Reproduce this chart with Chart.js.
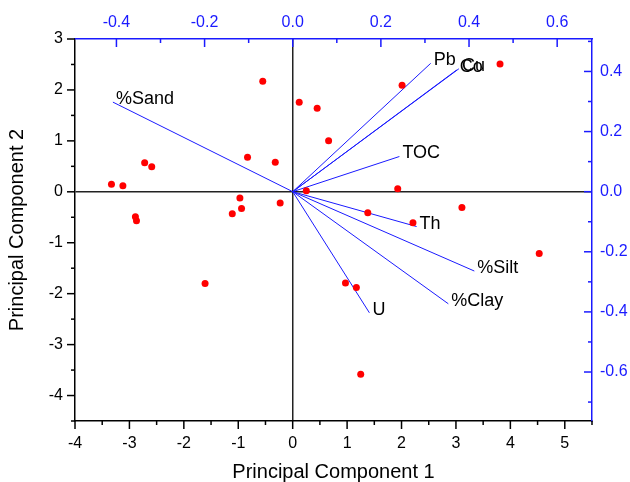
<!DOCTYPE html>
<html>
<head>
<meta charset="utf-8">
<script src="https://cdn.jsdelivr.net/npm/chart.js@4.4.1/dist/chart.umd.min.js"></script>
<style>
  html, body { margin: 0; padding: 0; background: #fff; }
  #wrap { width: 630px; height: 482px; }
</style>
</head>
<body>
<div id="wrap"><canvas id="myChart" width="630" height="482"></canvas></div>
<script>
"use strict";

// scores (red dots), PC1 / PC2
const scoreX = [-0.55, 0.12, 0.45, 0.66, -3.33, -3.12, -2.72, -2.59, -0.83, -0.32, 0.25,
                2.01, 3.81, 1.93,
                -0.97, -0.94, -1.11, -0.23, -2.89, -2.87, -1.61, 0.97, 1.17,
                1.38, 2.21, 3.11, 4.53, 1.25];
const scoreY = [2.17, 1.76, 1.64, 1.00, 0.15, 0.12, 0.57, 0.49, 0.68, 0.58, 0.02,
                2.09, 2.51, 0.06,
                -0.12, -0.33, -0.43, -0.22, -0.49, -0.57, -1.80, -1.79, -1.88,
                -0.41, -0.61, -0.31, -1.21, -3.58];

// loadings (blue vectors), top / right axes
const loadNames = ['%Sand', 'Pb', 'Co', 'Cu', 'TOC', 'Th', '%Silt', '%Clay', 'U'];
const loadX = [-0.408, 0.313, 0.372, 0.377, 0.242, 0.281, 0.412, 0.353, 0.174];
const loadY = [0.298, 0.427, 0.405, 0.409, 0.117, -0.116, -0.264, -0.373, -0.403];

// axis ranges
const pcRange1 = [-4, 5.5];
const pcRange2 = [-4.5, 3];
const topRange = [-0.494, 0.679];
const rightRange = [-0.763, 0.508];

const BLUE = '#1a1aff';
const FONT = '"Liberation Sans", Arial, sans-serif';

const scoreData = scoreX.map((x, i) => ({x: x, y: scoreY[i]}));

const vectorSets = loadNames.map((name, i) => ({
    label: name,
    xAxisID: 'x2',
    yAxisID: 'y2',
    data: [{x: 0, y: 0}, {x: loadX[i], y: loadY[i]}],
    showLine: true,
    borderColor: BLUE,
    borderWidth: 1,
    pointRadius: 0,
    order: 2
}));

// tick marks (major + minor), drawn by hand so direction can differ per side
const tickMarks = {
    id: 'tickMarks',
    afterDraw(chart) {
        const ctx = chart.ctx;
        const a = chart.chartArea;
        const sets = [
            {s: 'x', from: -4, to: 5.5, step: 0.5, major: 1, side: 'bottom', color: '#000'},
            {s: 'y', from: -4.5, to: 3, step: 0.5, major: 1, side: 'left', color: '#000'},
            {s: 'x2', from: -0.4, to: 0.6, step: 0.1, major: 0.2, side: 'top', color: BLUE},
            {s: 'y2', from: -0.7, to: 0.5, step: 0.1, major: 0.2, side: 'right', color: BLUE}
        ];
        ctx.save();
        ctx.lineWidth = 1.5;
        sets.forEach(t => {
            const sc = chart.scales[t.s];
            ctx.strokeStyle = t.color;
            const n = Math.round((t.to - t.from) / t.step);
            for (let k = 0; k <= n; k++) {
                const v = t.from + k * t.step;
                const isMajor = Math.abs(v / t.major - Math.round(v / t.major)) < 1e-6;
                const len = isMajor ? 8 : 4;
                const p = sc.getPixelForValue(v);
                ctx.beginPath();
                if (t.side === 'bottom') { ctx.moveTo(p, a.bottom); ctx.lineTo(p, a.bottom + len); }
                if (t.side === 'left') { ctx.moveTo(a.left, p); ctx.lineTo(a.left - len, p); }
                if (t.side === 'top') { ctx.moveTo(p, a.top); ctx.lineTo(p, a.top + len); }
                if (t.side === 'right') { ctx.moveTo(a.right, p); ctx.lineTo(a.right - len, p); }
                ctx.stroke();
            }
        });
        ctx.restore();
    }
};

// names at the vector tips
const vectorLabels = {
    id: 'vectorLabels',
    afterDatasetsDraw(chart) {
        const ctx = chart.ctx;
        const sx = chart.scales.x2, sy = chart.scales.y2;
        ctx.save();
        ctx.font = '18px ' + FONT;
        ctx.fillStyle = '#000';
        ctx.textAlign = 'left';
        ctx.textBaseline = 'middle';
        loadNames.forEach((name, i) => {
            ctx.fillText(name, sx.getPixelForValue(loadX[i]) + 3, sy.getPixelForValue(loadY[i]) - 3);
        });
        ctx.restore();
    }
};

const zeroGrid = {
    drawOnChartArea: true,
    drawTicks: false,
    color: c => (c.tick && c.tick.value === 0) ? '#222' : 'rgba(0,0,0,0)',
    lineWidth: 1.5
};

const config = {
    type: 'scatter',
    data: {
        datasets: [{
            label: 'scores',
            data: scoreData,
            xAxisID: 'x',
            yAxisID: 'y',
            pointRadius: 3.5,
            pointBackgroundColor: '#ff0000',
            pointBorderWidth: 0,
            order: 1
        }].concat(vectorSets)
    },
    options: {
        responsive: false,
        animation: false,
        layout: {padding: 0},
        plugins: {legend: {display: false}, tooltip: {enabled: false}},
        scales: {
            x: {
                type: 'linear', position: 'bottom',
                min: pcRange1[0], max: pcRange1[1],
                grid: zeroGrid,
                border: {display: true, color: '#000', width: 1.5},
                ticks: {
                    stepSize: 0.5, padding: 13, color: '#000', maxRotation: 0,
                    font: {family: FONT, size: 16},
                    callback: v => Number.isInteger(v) ? v : ''
                },
                title: {display: true, text: 'Principal Component 1', color: '#000',
                        font: {family: FONT, size: 20, lineHeight: 1}, padding: {top: 0, bottom: 0}},
                afterFit: s => { s.height = 61; }
            },
            y: {
                type: 'linear', position: 'left',
                min: pcRange2[0], max: pcRange2[1],
                grid: zeroGrid,
                border: {display: true, color: '#000', width: 1.5},
                ticks: {
                    stepSize: 0.5, padding: 12, color: '#000',
                    font: {family: FONT, size: 16},
                    callback: v => Number.isInteger(v) ? v : ''
                },
                title: {display: true, text: 'Principal Component 2', color: '#000',
                        font: {family: FONT, size: 20, lineHeight: 1}, padding: {top: 7, bottom: 0}},
                afterFit: s => { s.width = 75; }
            },
            x2: {
                type: 'linear', position: 'top',
                min: topRange[0], max: topRange[1],
                grid: {display: false, drawTicks: false, tickLength: 0},
                border: {display: true, color: BLUE, width: 1.5},
                afterBuildTicks: s => {
                    s.ticks = [-0.4, -0.2, 0, 0.2, 0.4, 0.6].map(v => ({value: v}));
                },
                ticks: {
                    padding: 7, color: BLUE, maxRotation: 0,
                    font: {family: FONT, size: 16},
                    callback: v => v.toFixed(1)
                },
                afterFit: s => { s.height = 39; }
            },
            y2: {
                type: 'linear', position: 'right',
                min: rightRange[0], max: rightRange[1],
                grid: {display: false, drawTicks: false, tickLength: 0},
                border: {display: true, color: BLUE, width: 1.5},
                afterBuildTicks: s => {
                    s.ticks = [-0.6, -0.4, -0.2, 0, 0.2, 0.4].map(v => ({value: v}));
                },
                ticks: {
                    padding: 8, color: BLUE,
                    font: {family: FONT, size: 16},
                    callback: v => v.toFixed(1)
                },
                afterFit: s => { s.width = 38; }
            }
        }
    },
    plugins: [tickMarks, vectorLabels]
};

const myChart = new Chart(document.getElementById('myChart'), config);
</script>
</body>
</html>
